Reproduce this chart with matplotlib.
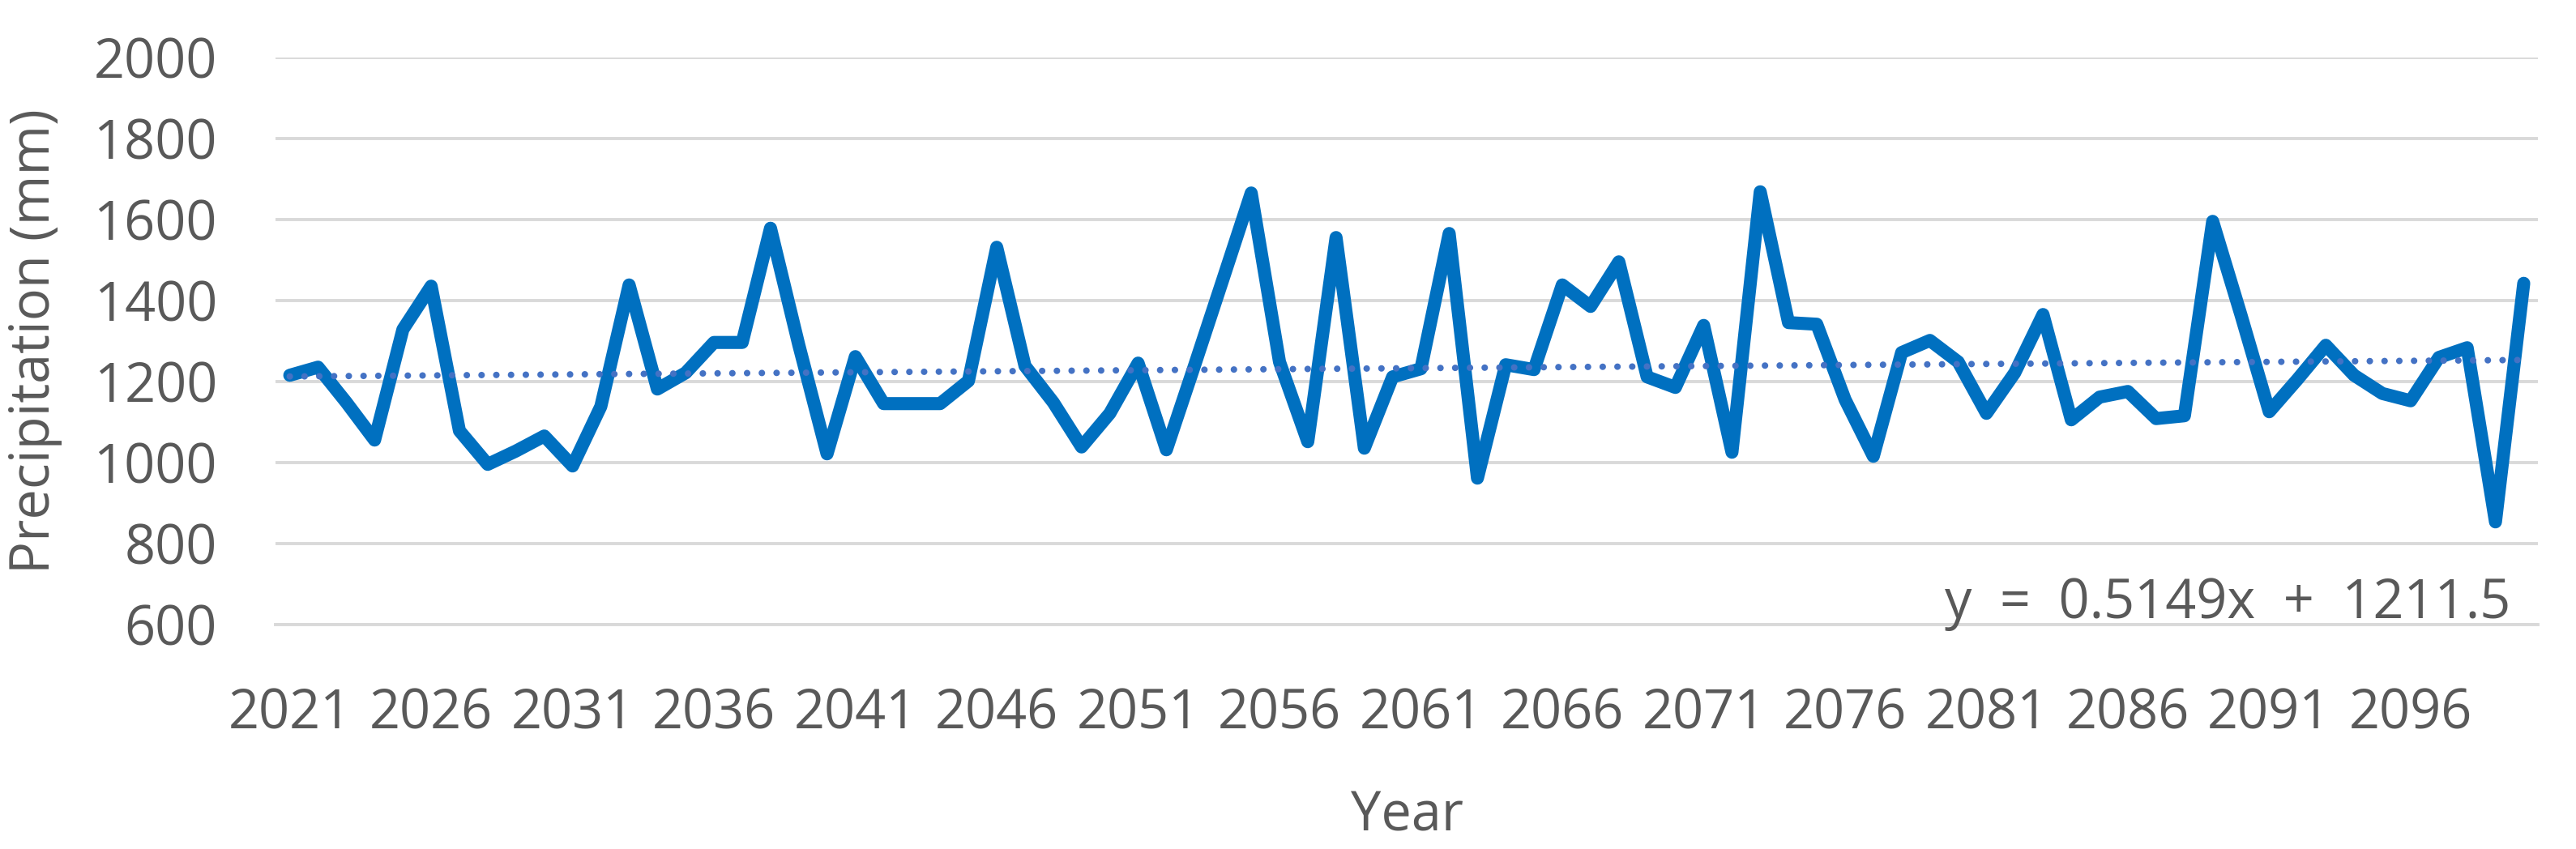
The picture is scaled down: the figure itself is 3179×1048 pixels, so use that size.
import matplotlib
matplotlib.use("Agg")
import matplotlib.pyplot as plt
import numpy as np

# Annual precipitation (mm), 2021-2100
years = list(range(2021, 2101))
precip = [
    1215, 1235, 1148, 1055, 1328, 1435, 1078, 995, 1028, 1065,
    991, 1138, 1438, 1181, 1221, 1296, 1296, 1578, 1290, 1021,
    1261, 1145, 1145, 1145, 1201, 1531, 1238, 1148, 1038, 1121,
    1245, 1031, 1240, 1452, 1665, 1248, 1051, 1555, 1035, 1211,
    1231, 1565, 961, 1241, 1229, 1438, 1385, 1495, 1211, 1185,
    1338, 1025, 1668, 1345, 1341, 1155, 1015, 1271, 1301, 1248,
    1121, 1221, 1365, 1105, 1161, 1175, 1108, 1115, 1595, 1364,
    1125, 1205, 1289, 1215, 1170, 1152, 1259, 1283, 853, 1442,
]
xtick_years = list(range(2021, 2100, 5))
ytick_vals = list(range(600, 2001, 200))

# Linear trend as reported on the chart
trend_slope = 0.5149
trend_intercept = 1211.5

text_color = "#595959"
plt.rcParams["font.family"] = ["Open Sans", "DejaVu Sans"]

fig = plt.figure(figsize=(15.895, 5.24), dpi=200)
ax = fig.add_axes([0.1070, 0.2646, 0.8782, 0.6679])

# Observed series
ax.plot(
    years,
    precip,
    color="#0070C0",
    linewidth=5.8,
    solid_joinstyle="round",
    solid_capstyle="round",
    zorder=3
)

# Trend line
idx = np.arange(1, len(years) + 1)
trend = trend_slope * idx + trend_intercept
ax.plot(
    years,
    trend,
    color="#4472C4",
    linewidth=2.9,
    linestyle=(0, (0.01, 2.25)),
    dash_capstyle="round",
    zorder=4
)

ax.set_xlim(2020.5, 2100.5)
ax.set_ylim(600, 2000)
ax.set_xticks(xtick_years)
ax.set_xticklabels([str(y) for y in xtick_years])
ax.set_yticks(ytick_vals)

ax.grid(axis="y", color="#D9D9D9", linewidth=1.4)
ax.set_axisbelow(True)
for side in ["top", "right", "left"]:
    ax.spines[side].set_visible(False)
ax.spines["bottom"].set_color("#D9D9D9")
ax.spines["bottom"].set_linewidth(1.4)

ax.tick_params(axis="both", length=0, labelsize=24, colors=text_color)
ax.tick_params(axis="y", pad=26)
ax.tick_params(axis="x", pad=28)

ax.set_xlabel("Year", fontsize=24, color=text_color, labelpad=21)
ax.set_ylabel("Precipitation (mm)", fontsize=24, color=text_color, labelpad=14)

ax.text(
    0.9878,
    0.011,
    "y  =  0.5149x  +  1211.5",
    transform=ax.transAxes,
    fontsize=24,
    color=text_color,
    ha="right",
    va="baseline"
)

fig.savefig("out.png", dpi=200)
